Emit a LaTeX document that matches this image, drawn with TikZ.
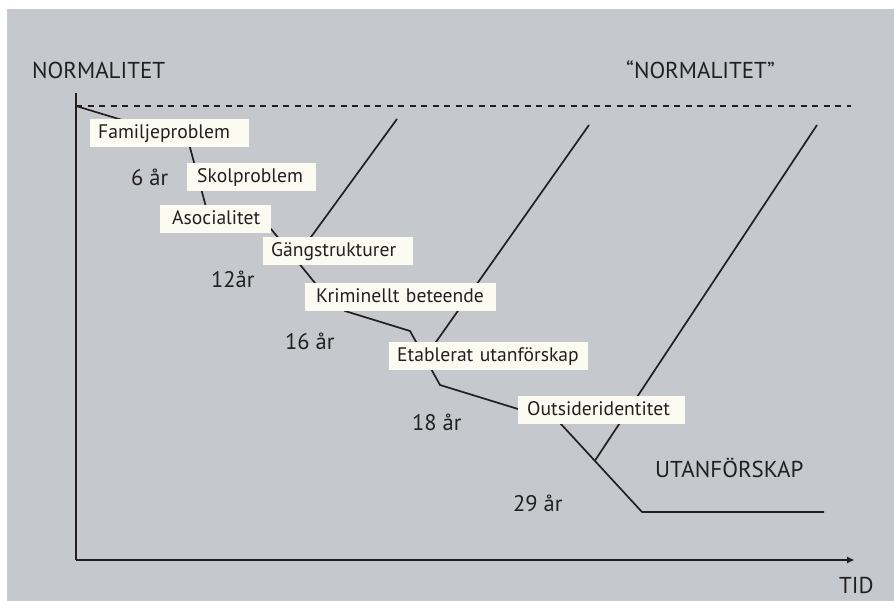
\documentclass[tikz,border=0pt]{standalone}
\usepackage{fontspec}
\setmainfont{PT Sans}
\usetikzlibrary{arrows.meta}
\definecolor{bg}{RGB}{197,201,206}
\definecolor{boxfill}{RGB}{252,251,242}
\definecolor{ink}{RGB}{35,31,32}
\tikzset{
  chartline/.style={draw=ink, line width=1.7pt, line join=round},
  axisline/.style={draw=ink, line width=1.7pt},
  guide/.style={draw=ink, line width=1.5pt, dash pattern=on 6pt off 5.5pt},
  lbl/.style={fill=boxfill, anchor=north west, align=left, inner ysep=5pt,
    text height=14pt, text depth=3.5pt, text=ink, font=\fontsize{19.6}{22}\selectfont},
  heading/.style={anchor=base west, inner sep=0pt, text=ink, font=\fontsize{23}{26}\selectfont},
  age/.style={anchor=base west, inner sep=0pt, text=ink, font=\fontsize{22.5}{25}\selectfont},
}
\begin{document}
\begin{tikzpicture}[x=1pt, y=-1pt]
\useasboundingbox (0,0) rectangle (894,601);
\fill[white] (0,0) rectangle (894,601);
\fill[bg] (7,9) rectangle (894,601);

% axes
\coordinate (origin) at (76,560);
\coordinate (ytop) at (76,93);
\coordinate (xend) at (854,560);
\draw[axisline] (ytop) -- (origin);
\draw[axisline, -{Triangle[length=7pt,width=6pt]}] (origin) -- (xend);

% normality guide
\coordinate (g0) at (76,106);
\coordinate (g1) at (851,106);
\draw[guide] (g0) -- (g1);

% main trajectory
\coordinate (p0) at (76,106);
\coordinate (p1) at (188,140);
\coordinate (p2) at (206,207);
\coordinate (p3) at (271,229);
\coordinate (p4) at (315,283);
\coordinate (p5) at (345,311);
\coordinate (p6) at (410,331);
\coordinate (p7) at (440,385);
\coordinate (p8) at (518,409);
\coordinate (p9) at (560,423);
\coordinate (p10) at (642,512);
\coordinate (p11) at (824,512);
\draw[chartline] (p0) -- (p1) -- (p2) -- (p3) -- (p4) -- (p5) -- (p6) -- (p7) -- (p8) -- (p9) -- (p10) -- (p11);

% exits back to normality
\coordinate (e1) at (397,119);
\coordinate (e1b) at (311,237);
\coordinate (e2) at (589,125);
\coordinate (e2b) at (436,342);
\coordinate (e3) at (817,125);
\coordinate (e3b) at (596,459);
\draw[chartline] (intersection of e1--e1b and p3--p4) -- (e1);
\draw[chartline] (intersection of e2--e2b and p6--p7) -- (e2);
\draw[chartline] (intersection of e3--e3b and p9--p10) -- (e3);

% stage labels
\node[lbl, inner xsep=8pt, text width=143pt] (fam) at (90,119) {\mbox{Familjeproblem}};
\node[lbl, inner xsep=10pt, text width=109pt] (skol) at (187,163) {\mbox{Skolproblem}};
\node[lbl, inner xsep=12pt, text width=87pt] (aso) at (160,205) {\mbox{Asocialitet}};
\node[lbl, inner xsep=8pt, text width=134pt] (gang) at (263,237) {\mbox{Gängstrukturer}};
\node[lbl, inner xsep=11pt, text width=169pt] (krim) at (305,283) {\mbox{Kriminellt beteende}};
\node[lbl, inner xsep=8pt, text width=183pt] (etab) at (389,342) {\mbox{Etablerat utanförskap}};
\node[lbl, inner xsep=9pt, text width=149pt] (outs) at (518,396) {\mbox{Outsideridentitet}};

% headings
\node[heading] (norm) at (32,79) {NORMALITET};
\node[heading] (qnorm) at (626,79) {“NORMALITET”};
\node[heading] (utan) at (655,477) {UTANFÖRSKAP};
\node[heading] (tid) at (839,593) {TID};

% ages
\node[age] (a6) at (131,186) {6 år};
\node[age] (a12) at (211,288) {12år};
\node[age] (a16) at (285,350) {16 år};
\node[age] (a18) at (412,430) {18 år};
\node[age] (a29) at (513,511) {29 år};
\end{tikzpicture}
\end{document}
